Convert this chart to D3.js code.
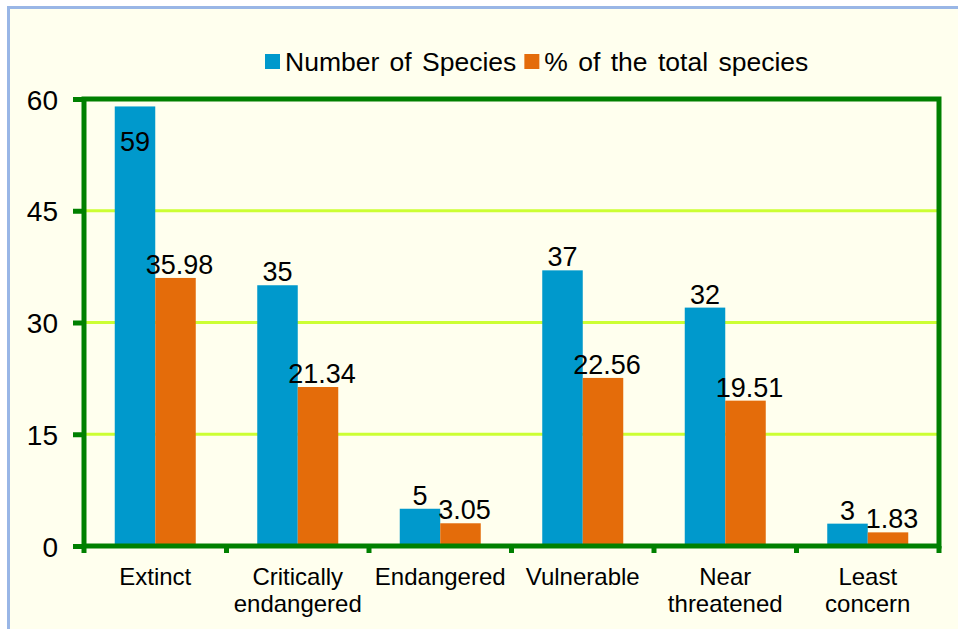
<!DOCTYPE html>
<html>
<head>
<meta charset="utf-8">
<script src="https://cdn.jsdelivr.net/npm/d3@7"></script>
<style>
  body { margin: 0; background: #ffffff; }
  text { font-family: "Liberation Sans", Arial, sans-serif; fill: #000; }
</style>
</head>
<body>
<script>
// Chart data
var categories = ["Extinct", "Critically endangered", "Endangered", "Vulnerable", "Near threatened", "Least concern"];
var categoryLines = [["Extinct"], ["Critically", "endangered"], ["Endangered"], ["Vulnerable"], ["Near", "threatened"], ["Least", "concern"]];
var seriesNames = ["Number of Species", "% of the total species"];
var numberOfSpecies = [59, 35, 5, 37, 32, 3];
var percentOfTotal = [35.98, 21.34, 3.05, 22.56, 19.51, 1.83];
var percentLabels = ["35.98", "21.34", "3.05", "22.56", "19.51", "1.83"];
var yTicks = [0, 15, 30, 45, 60];

var colors = ["#0099cc", "#e46c0a"];

var width = 958,
	height = 629;

var svg = d3.select("body").append("svg")
	.attr("width", width)
	.attr("height", height);

// chart area background with the light blue border
svg.append("rect")
	.attr("x", 8.5)
	.attr("y", 7.5)
	.attr("width", width + 20)
	.attr("height", height + 20)
	.attr("fill", "#ffffee")
	.attr("stroke", "#99b6e6")
	.attr("stroke-width", 3);

var plot = {left: 84, right: 939, top: 99, bottom: 546};

var x0 = d3.scaleBand()
	.domain(categories)
	.range([plot.left, plot.right])
	.paddingInner(0.4316)
	.paddingOuter(0.2158);

var x1 = d3.scaleBand()
	.domain([0, 1])
	.range([0, x0.bandwidth()]);

var y = d3.scaleLinear()
	.domain([0, 60])
	.range([plot.bottom, plot.top]);

// gridlines
svg.append("g")
	.selectAll("line")
	.data(yTicks.filter(function(t) { return t > 0 && t < 60; }))
	.enter()
	.append("line")
	.attr("x1", plot.left)
	.attr("x2", plot.right)
	.attr("y1", function(d) { return y(d); })
	.attr("y2", function(d) { return y(d); })
	.attr("stroke", "#ccff33")
	.attr("stroke-width", 3);

// bars
var rows = categories.map(function(c, i) {
	return {cat: c, values: [numberOfSpecies[i], percentOfTotal[i]], labels: [String(numberOfSpecies[i]), percentLabels[i]]};
});

var groups = svg.selectAll(".grp")
	.data(rows)
	.enter()
	.append("g")
	.attr("class", "grp")
	.attr("transform", function(d) { return "translate(" + x0(d.cat) + ",0)"; });

groups.selectAll("rect")
	.data(function(d) { return d.values; })
	.enter()
	.append("rect")
	.attr("x", function(d, i) { return x1(i); })
	.attr("y", function(d) { return y(d); })
	.attr("width", x1.bandwidth())
	.attr("height", function(d) { return plot.bottom - y(d); })
	.attr("fill", function(d, i) { return colors[i]; });

// value labels (the tallest one sits inside its bar)
groups.selectAll(".val")
	.data(function(d) { return d.values.map(function(v, i) { return {v: v, i: i, label: d.labels[i]}; }); })
	.enter()
	.append("text")
	.attr("class", "val")
	.attr("text-anchor", "middle")
	.attr("font-size", 27)
	.attr("x", function(d) { return x1(d.i) + x1.bandwidth() / 2 + (d.i === 1 ? 4 : 0); })
	.attr("y", function(d) {
		if (y(d.v) - 26 < plot.top) return y(d.v) + 45;
		return y(d.v) - 4;
	})
	.text(function(d) { return d.label; });

// y axis
var yAxis = d3.axisLeft(y).tickValues(yTicks).tickSize(11).tickPadding(15);
var gy = svg.append("g")
	.attr("transform", "translate(" + plot.left + ",0)")
	.call(yAxis);
gy.select(".domain").remove();
gy.selectAll(".tick line").attr("stroke", "#008000").attr("stroke-width", 5);
gy.selectAll(".tick text")
	.attr("font-size", 28)
	.attr("font-family", "Liberation Sans, Arial, sans-serif")
	.attr("fill", "#000")
	.attr("dy", "0.36em");

// category boundary ticks on the x axis
var boundaries = categories.map(function(c) { return x0(c) - x0.step() * x0.paddingOuter(); });
boundaries.push(plot.right);
svg.append("g")
	.selectAll("line")
	.data(boundaries)
	.enter()
	.append("line")
	.attr("x1", function(d) { return d; })
	.attr("x2", function(d) { return d; })
	.attr("y1", plot.bottom)
	.attr("y2", plot.bottom + 7)
	.attr("stroke", "#008000")
	.attr("stroke-width", 5);

// plot frame
svg.append("rect")
	.attr("x", plot.left)
	.attr("y", plot.top)
	.attr("width", plot.right - plot.left)
	.attr("height", plot.bottom - plot.top)
	.attr("fill", "none")
	.attr("stroke", "#008000")
	.attr("stroke-width", 5);

// category labels
var catLabels = svg.append("g")
	.selectAll("text")
	.data(categories)
	.enter()
	.append("text")
	.attr("text-anchor", "middle")
	.attr("font-size", 24)
	.attr("x", function(d) { return x0(d) + x0.bandwidth() / 2; })
	.attr("y", 585);

catLabels.selectAll("tspan")
	.data(function(d, i) { return categoryLines[i]; })
	.enter()
	.append("tspan")
	.attr("x", function() { return d3.select(this.parentNode).attr("x"); })
	.attr("dy", function(d, i) { return i === 0 ? 0 : 27; })
	.text(function(d) { return d; });

// legend
var legend = svg.append("g").attr("transform", "translate(265,0)");
var lx = 0;
seriesNames.forEach(function(name, i) {
	legend.append("rect")
		.attr("x", lx)
		.attr("y", 54)
		.attr("width", 15)
		.attr("height", 15)
		.attr("fill", colors[i]);
	var t = legend.append("text")
		.attr("x", lx + 20)
		.attr("y", 71)
		.attr("font-size", 26.5)
		.attr("word-spacing", 3)
		.text(name);
	lx += 20 + t.node().getComputedTextLength() + 8;
});
</script>
</body>
</html>
